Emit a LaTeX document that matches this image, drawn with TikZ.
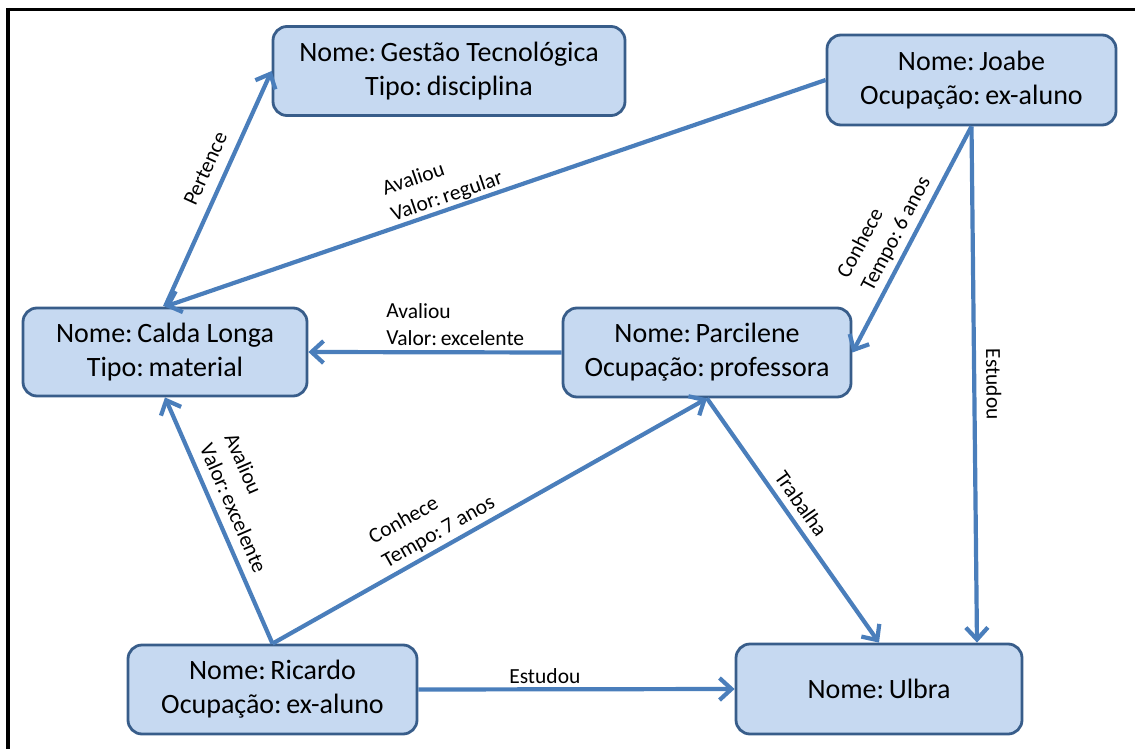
\documentclass[tikz,border=0pt]{standalone}
\usepackage{fontspec}
\setmainfont{Carlito}
\usetikzlibrary{arrows.meta}
\definecolor{boxfill}{RGB}{198,217,241}
\definecolor{boxline}{RGB}{56,93,138}
\definecolor{linkblue}{RGB}{74,126,187}
\begin{document}
\begin{tikzpicture}[x=1pt,y=-1pt,
  entity/.style={draw=boxline, line width=2.8pt, fill=boxfill, rounded corners=14pt,
    align=center, font=\fontsize{28}{34}\selectfont, inner sep=4pt},
  link/.style={draw=linkblue, line width=4.2pt, -{Straight Barb[length=12pt,width=22pt,line width=4.2pt]}},
  tag/.style={font=\fontsize{21.5}{27}\selectfont, align=left, sloped, inner sep=2pt}]
\useasboundingbox (0,0) rectangle (1135,749);

% frame lines along the top and the left side
\draw[line width=3pt] (6,9.5) -- (1135,9.5);
\draw[line width=4pt] (8,8) -- (8,749);

% entities
\node[entity, minimum width=352pt, minimum height=89pt] (gestao) at (449,71)
  {Nome:\,Gestão Tecnológica\\Tipo:\,disciplina};
\node[entity, minimum width=289pt, minimum height=90pt] (joabe) at (971.5,80)
  {Nome:\,Joabe\\Ocupação:\,ex-aluno};
\node[entity, minimum width=284pt, minimum height=88pt] (calda) at (165,352)
  {Nome:\,Calda Longa\\Tipo:\,material};
\node[entity, minimum width=288pt, minimum height=89pt] (parcilene) at (707,352.5)
  {Nome:\,Parcilene\\Ocupação:\,professora};
\node[entity, minimum width=289pt, minimum height=89pt] (ricardo) at (272.5,689.5)
  {Nome:\,Ricardo\\Ocupação:\,ex-aluno};
\node[entity, minimum width=286pt, minimum height=90pt] (ulbra) at (879,689)
  {Nome:\,Ulbra};

% relations
\draw[link] (calda.north) -- node[tag, pos=0.55, above, outer sep=11pt] {Pertence} (gestao.west);
\draw[link] (joabe.west) -- node[tag, pos=0.567, above, outer sep=1pt] {Avaliou\\Valor:\,regular} (calda.north);
\draw[link] (parcilene.west) -- node[tag, pos=0.42, above, outer sep=5pt] {Avaliou\\Valor:\,excelente} (calda.east);
\draw[link] (joabe.south) -- node[tag, pos=0.51, above, outer sep=5pt] {Conhece\\Tempo:\,6 anos} (parcilene.east);
\draw[link] (joabe.south) -- node[tag, pos=0.5, above, outer sep=10pt] {Estudou} ([xshift=98pt]ulbra.north);
\draw[link] (ricardo.north) -- node[tag, pos=0.52, above, outer sep=9pt] {Avaliou\\Valor:\,excelente} (calda.south);
\draw[link] (ricardo.north) -- node[tag, pos=0.40, above, outer sep=4pt] {Conhece\\Tempo:\,7 anos} (parcilene.south);
\draw[link] (parcilene.south) -- node[tag, pos=0.47, above, outer sep=7pt] {Trabalha} (ulbra.north);
\draw[link] (ricardo.east) -- node[tag, pos=0.40, above, outer sep=4pt] {Estudou} (ulbra.west);
\end{tikzpicture}
\end{document}
